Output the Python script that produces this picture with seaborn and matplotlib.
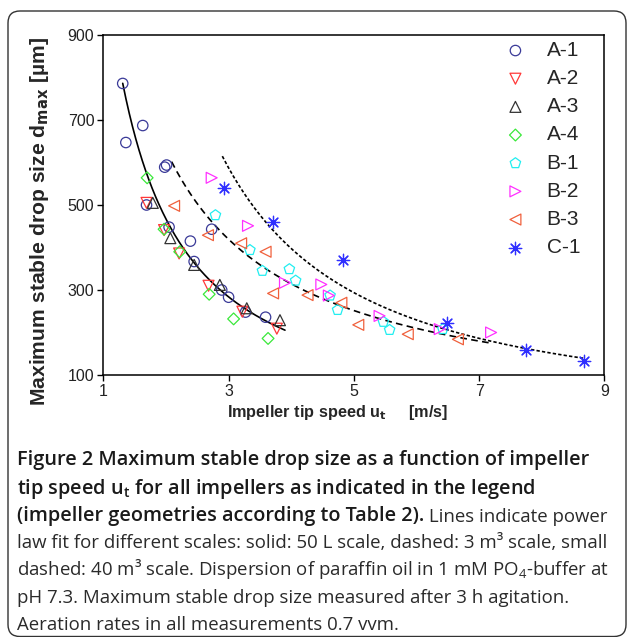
import numpy as np
import pandas as pd
import matplotlib
matplotlib.use("Agg")
import matplotlib.pyplot as plt
from matplotlib.patches import FancyBboxPatch
import seaborn as sns

# --- data: tip speed u_t [m/s], max stable drop size d_max [um] ---
a1_x = [1.31, 1.36, 1.63, 1.69, 1.98, 2.01, 2.05, 2.39, 2.45, 2.73, 2.89, 3.00, 3.27, 3.59]
a1_y = [786, 647, 687, 500, 589, 594, 448, 415, 367, 443, 300, 283, 248, 236]
a2_x = [1.69, 1.97, 2.21, 2.68, 3.22, 3.77]
a2_y = [505, 441, 386, 310, 249, 209]
a3_x = [1.79, 2.07, 2.45, 2.86, 3.29, 3.82]
a3_y = [505, 422, 359, 312, 257, 229]
a4_x = [1.70, 1.97, 2.22, 2.69, 3.08, 3.63]
a4_y = [564, 443, 390, 290, 232, 186]
b1_x = [2.79, 3.34, 3.54, 3.97, 4.07, 4.62, 4.74, 5.47, 5.57, 6.42]
b1_y = [476, 394, 345, 349, 322, 287, 253, 225, 206, 208]
b2_x = [2.73, 3.31, 3.90, 4.48, 4.60, 5.41, 6.37, 7.19]
b2_y = [564, 451, 317, 313, 287, 239, 208, 200]
b3_x = [2.13, 2.67, 3.20, 3.59, 3.71, 4.26, 4.80, 5.07, 5.86, 6.66]
b3_y = [498, 429, 410, 390, 292, 288, 270, 218, 196, 184]
c1_x = [2.92, 3.71, 4.83, 6.48, 7.75, 8.68]
c1_y = [539, 461, 371, 222, 160, 134]

series_names = ["A-1", "A-2", "A-3", "A-4", "B-1", "B-2", "B-3", "C-1"]
series_x = [a1_x, a2_x, a3_x, a4_x, b1_x, b2_x, b3_x, c1_x]
series_y = [a1_y, a2_y, a3_y, a4_y, b1_y, b2_y, b3_y, c1_y]

# power law fits d = a * u^b for 50 L, 3 m3 and 40 m3 scale
fit_a = [1096, 1258, 2605]
fit_b = [-1.23, -1.0, -1.356]
fit_start = [1.31, 2.09, 2.90]
fit_end = [3.90, 7.17, 8.68]

x_ticks = [1, 3, 5, 7, 9]
y_ticks = [100, 300, 500, 700, 900]

frames = []
for name, xs, ys in zip(series_names, series_x, series_y):
    frames.append(pd.DataFrame({"series": name, "u_t": xs, "d_max": ys}))
df = pd.concat(frames, ignore_index=True)

# --- style ---
sns.set_style("ticks")
plt.rcParams["font.family"] = ["Liberation Sans", "DejaVu Sans"]
plt.rcParams["mathtext.fontset"] = "custom"
plt.rcParams["mathtext.rm"] = "Open Sans"
plt.rcParams["mathtext.bf"] = "Open Sans:semibold"
plt.rcParams["mathtext.it"] = "Open Sans:italic"

marker_styles = {
    "A-1": dict(marker="o", color="#3a3a98", s=56),
    "A-2": dict(marker="v", color="#ff3838", s=62),
    "A-3": dict(marker="^", color="#333333", s=62),
    "A-4": dict(marker="D", color="#3ae83a", s=36),
    "B-1": dict(marker="p", color="#22eef0", s=62),
    "B-2": dict(marker=">", color="#ff30ff", s=62),
    "B-3": dict(marker="<", color="#f0603c", s=62),
    "C-1": dict(marker=(8, 2, 0), color="#2f2fff", s=80),
}

fig = plt.figure(figsize=(6.29, 6.37), dpi=100)
ax = fig.add_axes([103.3 / 629, 1 - 375 / 637, 501.2 / 629, 340 / 637])

for name in series_names:
    sub = df[df["series"] == name]
    st = marker_styles[name]
    kw = dict(color=st["color"])
    if name != "C-1":
        kw = dict(facecolor="none", edgecolor=st["color"])
    sns.scatterplot(data=sub, x="u_t", y="d_max", marker=st["marker"], s=st["s"],
                    linewidth=0.9, label=name, ax=ax, zorder=3, **kw)

fit_styles = ["-", (0, (4.0, 2.6)), (0, (2.0, 1.3))]
for a, b, x0, x1, ls in zip(fit_a, fit_b, fit_start, fit_end, fit_styles):
    u = np.linspace(x0, x1, 200)
    sns.lineplot(x=u, y=a * u ** b, color="black", linestyle=ls, linewidth=1.2,
                 estimator=None, ax=ax, zorder=2)

ax.set_xlim(1, 9)
ax.set_ylim(100, 900)
ax.set_xticks(x_ticks)
ax.set_yticks(y_ticks)
ax.tick_params(length=4.5, width=1.0, labelsize=11.5, color="black", labelcolor="#222222", pad=2)
for sp in ax.spines.values():
    sp.set_linewidth(1.1)
    sp.set_color("black")

ax.set_xlabel(r"Impeller tip speed u$_{\mathbf{t}}$     [m/s]", fontsize=11.7, fontweight="bold",
              math_fontfamily="dejavusans")
ax.set_ylabel(r"Maximum stable drop size d$_{\mathbf{max}}$ [µm]", fontsize=15.2,
              fontweight="bold", math_fontfamily="dejavusans")
ax.xaxis.set_label_coords(0.467, -0.083)
ax.yaxis.set_label_coords(-0.104, 0.453)

handles, labels = ax.get_legend_handles_labels()
ax.legend(handles, labels, loc="upper left", bbox_to_anchor=(505 / 629, 1 - 41 / 637),
          bbox_transform=fig.transFigure, frameon=False, fontsize=15, borderpad=0,
          borderaxespad=0, handlelength=1.0, handletextpad=1.0, labelspacing=0.44)

# --- caption ---
cap_font = ["Open Sans", "DejaVu Sans"]
bold_size = 14.3
reg_size = 13.4
left = 17 / 629
baselines = [465, 494, 521, 548, 575, 603, 630]
bold_lines = [
    "Figure 2 Maximum stable drop size as a function of impeller",
    r"tip speed u$_\mathbf{t}$ for all impellers as indicated in the legend",
    "(impeller geometries according to Table 2).",
]
reg_lines = [
    "law fit for different scales: solid: 50 L scale, dashed: 3 m³ scale, small",
    r"dashed: 40 m³ scale. Dispersion of paraffin oil in 1 mM PO$_4$-buffer at",
    "pH 7.3. Maximum stable drop size measured after 3 h agitation.",
    "Aeration rates in all measurements 0.7 vvm.",
]
bold_texts = []
for line, yb in zip(bold_lines, baselines[:3]):
    t = fig.text(left, 1 - yb / 637, line, family=cap_font, fontweight="semibold",
                 fontsize=bold_size, va="baseline", ha="left", color="#1a1a1a")
    bold_texts.append(t)
ax.annotate(" Lines indicate power", xy=(1, 0), xycoords=bold_texts[2], family=cap_font,
            fontsize=reg_size, color="#2a2a2a", ha="left", va="bottom", annotation_clip=False)
for line, yb in zip(reg_lines, baselines[3:]):
    fig.text(left, 1 - yb / 637, line, family=cap_font, fontsize=reg_size,
             va="baseline", ha="left", color="#2a2a2a")

border = FancyBboxPatch((8, 0.5), 618, 625.5, boxstyle="round,pad=0,rounding_size=12",
                        transform=None, fill=False, edgecolor="#333333", linewidth=1.0)
fig.add_artist(border)

fig.savefig("out.png", dpi=100)
